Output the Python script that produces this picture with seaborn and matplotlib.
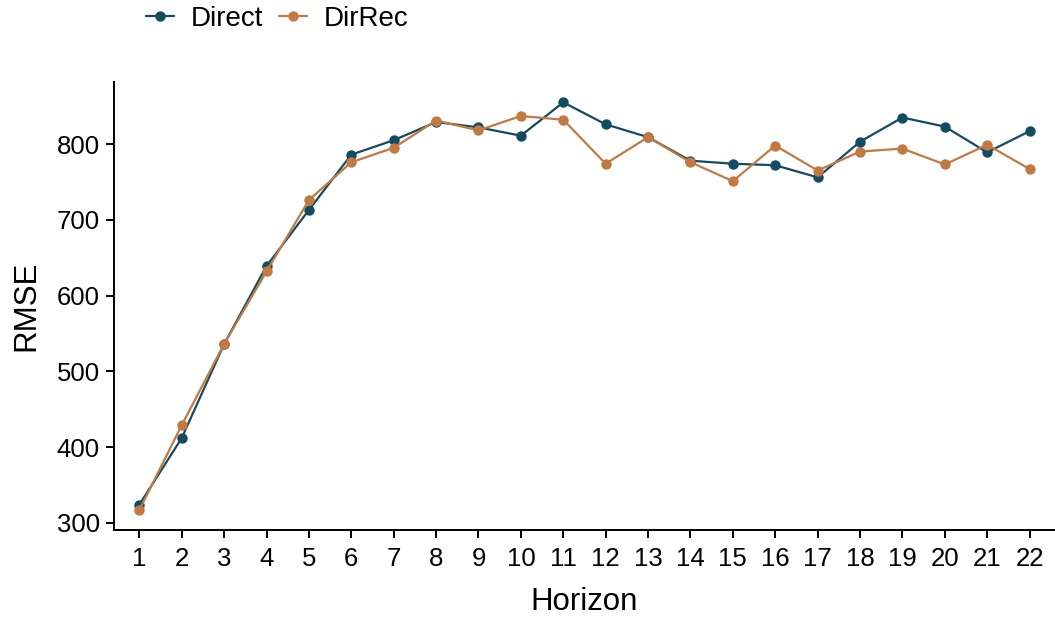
import numpy as np
import pandas as pd
import matplotlib
matplotlib.use("Agg")
import matplotlib.pyplot as plt
import seaborn as sns

horizon = list(range(1, 23))
direct = [324, 412, 536, 639, 713, 786, 805, 829, 822, 811, 855,
          826, 809, 778, 774, 772, 756, 803, 835, 823, 789, 817]
dirrec = [317, 429, 536, 632, 726, 776, 795, 831, 818, 837, 832,
          774, 809, 776, 751, 798, 765, 790, 794, 773, 799, 767]
methods = ["Direct", "DirRec"]
colors = {"Direct": "#134B63", "DirRec": "#C27A42"}

df = pd.DataFrame({
    "Horizon": horizon * 2,
    "RMSE": direct + dirrec,
    "Method": ["Direct"] * len(direct) + ["DirRec"] * len(dirrec),
})

sns.set_theme(style="ticks")
plt.rcParams["font.family"] = ["Liberation Sans", "DejaVu Sans"]
plt.rcParams["text.color"] = "black"
plt.rcParams["axes.labelcolor"] = "black"

fig = plt.figure(figsize=(10.55, 6.21), dpi=100)
ax = fig.add_axes([0.108, 0.146, 0.892, 0.722])

sns.lineplot(data=df, x="Horizon", y="RMSE", hue="Method", hue_order=methods,
             palette=colors, marker="o", markersize=7.5, markeredgewidth=0,
             linewidth=1.6, ax=ax, legend=True)

ax.set_xlim(0.4, 22.6)
lo, hi = min(direct + dirrec), max(direct + dirrec)
pad = (hi - lo) * 0.05
ax.set_ylim(lo - pad, hi + pad)
ax.set_xticks(horizon)
ax.set_xticklabels([str(h) for h in horizon])
ax.set_yticks([300, 400, 500, 600, 700, 800])

for s in ["top", "right"]:
    ax.spines[s].set_visible(False)
for s in ["left", "bottom"]:
    ax.spines[s].set_linewidth(1.4)
    ax.spines[s].set_color("black")
ax.tick_params(axis="both", labelsize=18.5, width=1.4, length=5.8,
               color="black", labelcolor="black")
ax.tick_params(axis="x", pad=6.5)
ax.tick_params(axis="y", pad=4.5)

ax.set_xlabel("Horizon", fontsize=22.5, labelpad=11)
ax.set_ylabel("RMSE", fontsize=22.5, labelpad=11)

handles, labels = ax.get_legend_handles_labels()
ax.legend(handles, labels, loc="center left",
          bbox_to_anchor=(146 / 1055, 1 - 19 / 621),
          bbox_transform=fig.transFigure, ncol=2, frameon=False,
          fontsize=20, handlelength=1.0, handletextpad=0.6,
          columnspacing=0.6, borderpad=0, borderaxespad=0)

fig.savefig("out.png", dpi=100)
